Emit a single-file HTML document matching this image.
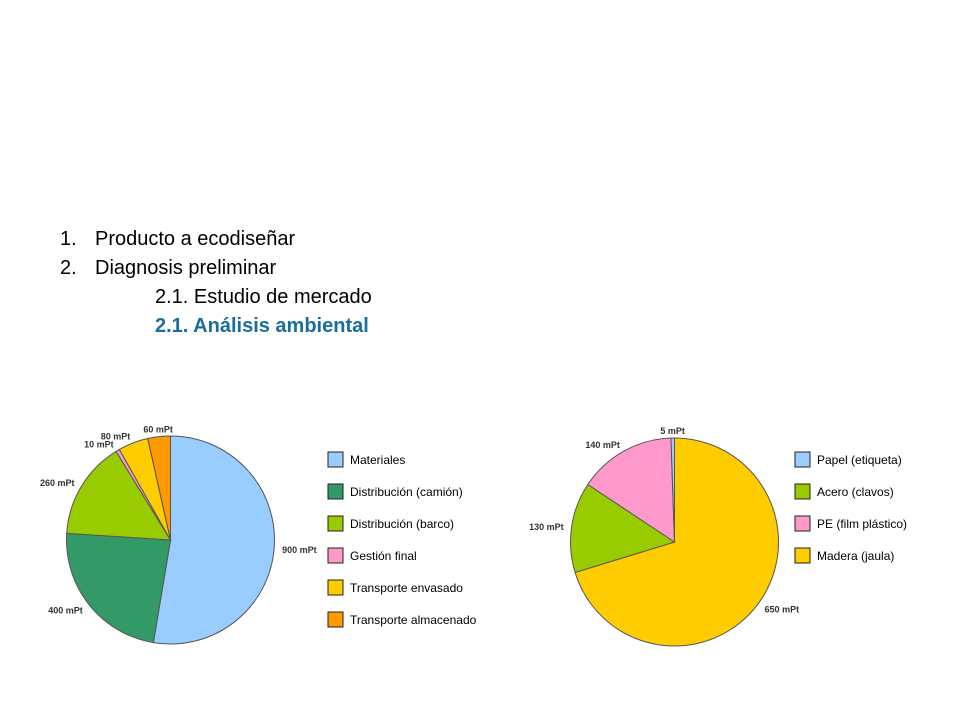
<!DOCTYPE html>
<html><head><meta charset="utf-8">
<style>
html,body{margin:0;padding:0;background:#fff;}
body{width:960px;height:720px;position:relative;overflow:hidden;font-family:"Liberation Sans",Arial,sans-serif;}
.t{position:absolute;font-size:20px;color:#000;white-space:nowrap;line-height:1;}
</style></head><body>
<div class="t" style="left:60px;top:229px;">1.</div>
<div class="t" style="left:95px;top:229px;">Producto a ecodiseñar</div>
<div class="t" style="left:60px;top:258px;">2.</div>
<div class="t" style="left:95px;top:258px;">Diagnosis preliminar</div>
<div class="t" style="left:155px;top:287px;">2.1. Estudio de mercado</div>
<div class="t" style="left:155px;top:316px;color:#1a6e9c;font-weight:bold;">2.1. Análisis ambiental</div>

<svg id="charts" width="960" height="720" style="position:absolute;left:0;top:0;" xmlns="http://www.w3.org/2000/svg"></svg>

<script>
const cats1 = ["Materiales","Distribución (camión)","Distribución (barco)","Gestión final","Transporte envasado","Transporte almacenado"];
const vals1 = [900,400,260,10,80,60];
const labels1 = ["900 mPt","400 mPt","260 mPt","10 mPt","80 mPt","60 mPt"];
const colors1 = ["#99ccff","#339966","#99cc00","#ff99cc","#ffcc00","#ff9900"];
const cats2 = ["Madera (jaula)","Acero (clavos)","PE (film plástico)","Papel (etiqueta)"];
const vals2 = [650,130,140,5];
const labels2 = ["650 mPt","130 mPt","140 mPt","5 mPt"];
const colors2 = ["#ffcc00","#99cc00","#ff99cc","#99ccff"];
const legend2Order = [3,1,2,0];

const NS="http://www.w3.org/2000/svg";
const svg=document.getElementById('charts');
function mk(tag,attrs){const e=document.createElementNS(NS,tag);for(const k in attrs)e.setAttribute(k,attrs[k]);svg.appendChild(e);return e;}
function pt(cx,cy,r,a){return [cx+r*Math.sin(a),cy-r*Math.cos(a)];}

function pie(cx,cy,r,vals,labels,colors,name,lr){
  const tot=vals.reduce((a,b)=>a+b,0);
  let acc=0;
  vals.forEach((v,i)=>{
    const a0=acc/tot*2*Math.PI; acc+=v; const a1=acc/tot*2*Math.PI;
    const p0=pt(cx,cy,r,a0),p1=pt(cx,cy,r,a1);
    const large=(a1-a0)>Math.PI?1:0;
    const p=mk('path',{d:`M${cx},${cy} L${p0[0]},${p0[1]} A${r},${r} 0 ${large} 1 ${p1[0]},${p1[1]} Z`,fill:colors[i],stroke:'#555',"stroke-width":1});
    
    
    const am=(a0+a1)/2;
    const lp=pt(cx,cy,r+lr,am);
    const s=Math.sin(am);
    const t=mk('text',{x:lp[0],y:lp[1]+4,"font-size":"9","font-weight":"bold","font-family":"Liberation Sans, Arial, sans-serif",fill:'#333',"text-anchor":s>0.3?'start':(s<-0.3?'end':'middle')});
    t.textContent=labels[i];
    
    
  });
}
function legend(x,y0,cats,colors,order,name){
  order.forEach((idx,k)=>{
    const y=y0+k*32;
    const r=mk('rect',{x:x,y:y,width:15,height:15,fill:colors[idx],stroke:'#222',"stroke-width":1});
    
    
    const t=mk('text',{x:x+22,y:y+12,"font-size":"12","font-family":"Liberation Sans, Arial, sans-serif",fill:'#000'});
    t.textContent=cats[idx];
    
    
  });
}
pie(170.5,540,104,vals1,labels1,colors1,'pie-impact',8);
pie(674.5,542,104,vals2,labels2,colors2,'pie-materials',8);
legend(328,452,cats1,colors1,[0,1,2,3,4,5],'legend-impact');
legend(795,452,cats2,colors2,legend2Order,'legend-materials');
</script>
</body></html>
